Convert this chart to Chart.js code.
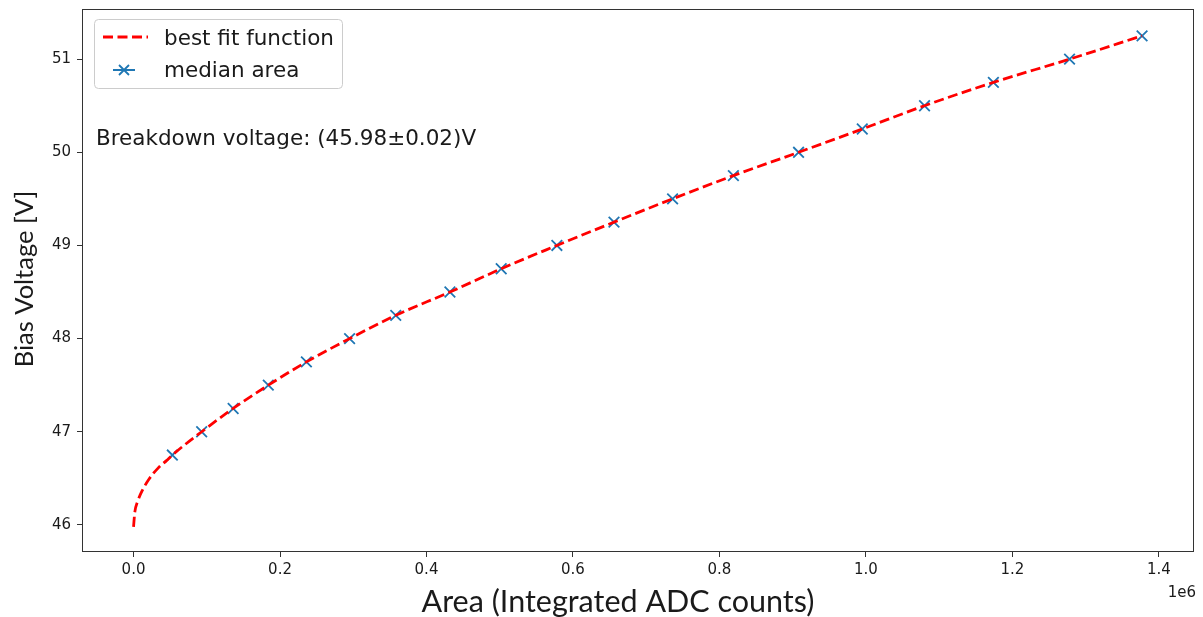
<!DOCTYPE html>
<html>
<head>
<meta charset="utf-8">
<script src="https://cdn.jsdelivr.net/npm/chart.js@4.4.1/dist/chart.umd.min.js"></script>
<style>
  html, body { margin: 0; padding: 0; background: #ffffff; }
  canvas { display: block; }
</style>
</head>
<body>
<canvas id="bdChart" width="1203" height="617"></canvas>
<script>
// median area (ADC counts) per bias voltage step
const medianArea = [53000, 93000, 136000, 184000, 236000, 295000, 358000, 432000, 502000, 578000,
                    656000, 736000, 819000, 908000, 995000, 1080000, 1174000, 1278000, 1377000];
const biasVoltage = [46.75, 47.00, 47.25, 47.50, 47.75, 48.00, 48.25, 48.50, 48.75, 49.00,
                     49.25, 49.50, 49.75, 50.00, 50.25, 50.50, 50.75, 51.00, 51.25];

// best fit curve
const fitArea = [0, 1800, 5500, 12000, 21000, 33500, 45000, 53000, 93000, 136000, 184000, 236000,
                 295000, 358000, 432000, 502000, 578000, 656000, 736000, 819000, 908000, 995000,
                 1080000, 1174000, 1278000, 1377000];
const fitVoltage = [45.98, 46.14, 46.25, 46.37, 46.49, 46.61, 46.69, 46.75, 47.00, 47.25, 47.50, 47.75,
                    48.00, 48.25, 48.50, 48.75, 49.00, 49.25, 49.50, 49.75, 50.00, 50.25,
                    50.50, 50.75, 51.00, 51.25];

const xTicks = [0, 200000, 400000, 600000, 800000, 1000000, 1200000, 1400000];
const yTicks = [46, 47, 48, 49, 50, 51];

const annotationText = 'Breakdown voltage: (45.98\u00b10.02)V';
const xTitle = 'Area (Integrated ADC counts)';
const yTitle = 'Bias Voltage [V]';

const tickFont = { family: 'DejaVu Sans', size: 15 };
const textColor = '#1a1a1a';
const fitColor = '#ff0000';
const pointColor = '#1f77b4';

// frame, axis titles, legend and text
const decorPlugin = {
    id: 'decor',
    afterDatasetsDraw(chart){
        const ctx = chart.ctx;
        const a = chart.chartArea;
        ctx.save();

        // matplotlib style frame
        ctx.strokeStyle = '#333333';
        ctx.lineWidth = 1;
        ctx.strokeRect(Math.round(a.left) - 0.5, Math.round(a.top) + 0.5, Math.round(a.right - a.left), Math.round(a.bottom - a.top));

        // legend box
        const lx = 94.5, ly = 19.5, lw = 248, lh = 69, r = 4;
        ctx.beginPath();
        ctx.moveTo(lx + r, ly);
        ctx.lineTo(lx + lw - r, ly);
        ctx.quadraticCurveTo(lx + lw, ly, lx + lw, ly + r);
        ctx.lineTo(lx + lw, ly + lh - r);
        ctx.quadraticCurveTo(lx + lw, ly + lh, lx + lw - r, ly + lh);
        ctx.lineTo(lx + r, ly + lh);
        ctx.quadraticCurveTo(lx, ly + lh, lx, ly + lh - r);
        ctx.lineTo(lx, ly + r);
        ctx.quadraticCurveTo(lx, ly, lx + r, ly);
        ctx.closePath();
        ctx.fillStyle = 'rgba(255,255,255,0.85)';
        ctx.fill();
        ctx.strokeStyle = '#cccccc';
        ctx.lineWidth = 1;
        ctx.stroke();

        // legend entry: fit
        ctx.strokeStyle = fitColor;
        ctx.lineWidth = 2.8;
        ctx.setLineDash([10, 4.5]);
        ctx.beginPath();
        ctx.moveTo(103, 37);
        ctx.lineTo(148, 37);
        ctx.stroke();
        ctx.setLineDash([]);

        // legend entry: median area
        ctx.strokeStyle = pointColor;
        ctx.lineWidth = 1.8;
        ctx.beginPath();
        ctx.moveTo(113, 70);
        ctx.lineTo(135, 70);
        ctx.moveTo(119, 65); ctx.lineTo(129, 75);
        ctx.moveTo(119, 75); ctx.lineTo(129, 65);
        ctx.stroke();

        ctx.fillStyle = textColor;
        ctx.font = '21.5px "DejaVu Sans"';
        ctx.textAlign = 'left';
        ctx.textBaseline = 'alphabetic';
        ctx.fillText(chart.data.datasets[0].label, 164, 44.5);
        ctx.fillText(chart.data.datasets[1].label, 164, 77);

        // breakdown voltage note
        ctx.fillText(annotationText, 96, 144.5);

        // offset label
        ctx.font = '15px "DejaVu Sans"';
        ctx.textAlign = 'right';
        ctx.fillText('1e6', 1196, 597);

        // axis titles
        ctx.font = '30.5px Lato';
        ctx.textAlign = 'center';
        ctx.textBaseline = 'alphabetic';
        ctx.fillText(xTitle, 618, 612);

        ctx.font = '25.5px Lato';
        ctx.translate(32.5, 279);
        ctx.rotate(-Math.PI / 2);
        ctx.fillText(yTitle, 0, 0);

        ctx.restore();
    }
};

const ctx = document.getElementById('bdChart');

const chart = new Chart(ctx, {
    type: 'scatter',
    data: {
        datasets: [
            {
                label: 'best fit function',
                data: fitArea.map((x, i) => ({ x: x, y: fitVoltage[i] })),
                showLine: true,
                borderColor: fitColor,
                borderWidth: 2.8,
                borderDash: [10, 4.5],
                pointRadius: 0,
                cubicInterpolationMode: 'monotone',
                fill: false,
                order: 0,
            },
            {
                label: 'median area',
                data: medianArea.map((x, i) => ({ x: x, y: biasVoltage[i] })),
                showLine: false,
                pointStyle: 'crossRot',
                pointRadius: 7.5,
                borderColor: pointColor,
                backgroundColor: pointColor,
                pointBorderWidth: 1.8,
                order: 1,
            }
        ]
    },
    options: {
        responsive: false,
        animation: false,
        layout: { padding: { top: 8, right: 7, left: 0, bottom: 0 } },
        scales: {
            x: {
                type: 'linear',
                min: -69000,
                max: 1447500,
                afterFit: scale => {
                    scale.height = 66;
                    scale.paddingLeft = 0;
                    scale.paddingRight = 0;
                },
                afterBuildTicks: scale => { scale.ticks = xTicks.map(v => ({ value: v })); },
                border: { display: false },
                grid: { drawOnChartArea: false, drawTicks: true, tickLength: 6, tickColor: '#333333' },
                ticks: {
                    font: tickFont,
                    color: textColor,
                    padding: 4,
                    maxRotation: 0,
                    callback: v => (v / 1e6).toFixed(1),
                }
            },
            y: {
                type: 'linear',
                min: 45.72,
                max: 51.535,
                afterFit: scale => {
                    scale.width = 83;
                    scale.paddingTop = 0;
                    scale.paddingBottom = 0;
                },
                afterBuildTicks: scale => { scale.ticks = yTicks.map(v => ({ value: v })); },
                border: { display: false },
                grid: { drawOnChartArea: false, drawTicks: true, tickLength: 6, tickColor: '#333333' },
                ticks: {
                    font: tickFont,
                    color: textColor,
                    padding: 6,
                    callback: v => String(v),
                }
            }
        },
        plugins: {
            legend: { display: false },
            tooltip: { enabled: false },
        }
    },
    plugins: [decorPlugin]
});
</script>
</body>
</html>
